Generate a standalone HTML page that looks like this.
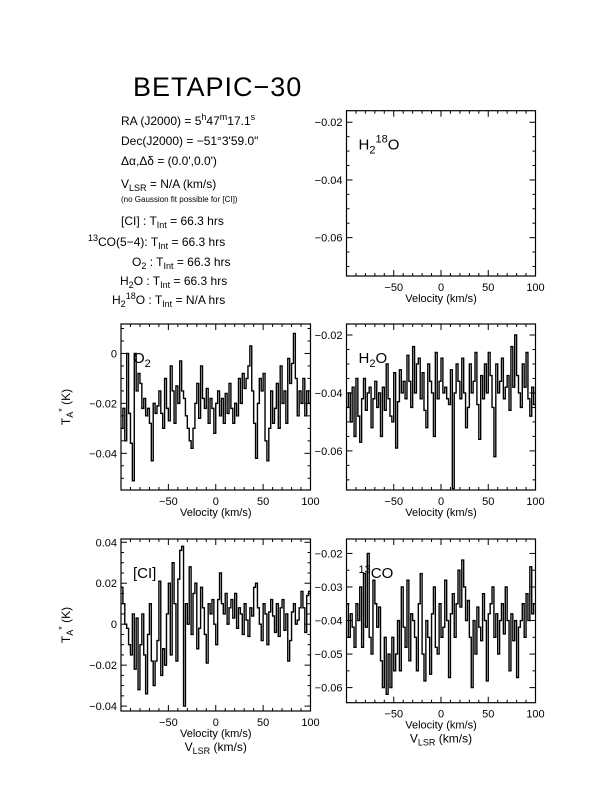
<!DOCTYPE html>
<html><head><meta charset="utf-8">
<style>
html,body{margin:0;padding:0;background:#fff;}
svg{display:block;font-family:"Liberation Sans",sans-serif;}
text{fill:#000;}
</style></head>
<body>
<svg id="fig" width="612" height="792" viewBox="0 0 612 792">
<text x="133" y="96" font-size="27" style="font-weight:100;letter-spacing:1px">BETAPIC−30</text>
<g font-size="12">
<text x="121" y="125">RA (J2000) = 5<tspan dy="-5" font-size="9">h</tspan><tspan dy="5">47</tspan><tspan dy="-5" font-size="9">m</tspan><tspan dy="5">17.1</tspan><tspan dy="-5" font-size="9">s</tspan></text>
<text x="121" y="145">Dec(J2000) = −51°3'59.0"</text>
<text x="121" y="165">Δα,Δδ = (0.0',0.0')</text>
<text x="121" y="188">V<tspan dy="3" font-size="9">LSR</tspan><tspan dy="-3"> = N/A (km/s)</tspan></text>
<text x="121" y="202" font-size="8">(no Gaussion fit possible for [CI])</text>
<text x="121" y="225">[CI] : T<tspan dy="3" font-size="9">Int</tspan><tspan dy="-3"> = 66.3 hrs</tspan></text>
<text x="88" y="246"><tspan dy="-5" font-size="9">13</tspan><tspan dy="5">CO(5−4): T</tspan><tspan dy="3" font-size="9">Int</tspan><tspan dy="-3"> = 66.3 hrs</tspan></text>
<text x="132" y="266">O<tspan dy="3" font-size="9">2</tspan><tspan dy="-3"> : T</tspan><tspan dy="3" font-size="9">Int</tspan><tspan dy="-3"> = 66.3 hrs</tspan></text>
<text x="120" y="285">H<tspan dy="3" font-size="9">2</tspan><tspan dy="-3">O : T</tspan><tspan dy="3" font-size="9">Int</tspan><tspan dy="-3"> = 66.3 hrs</tspan></text>
<text x="112" y="304">H<tspan dy="3" font-size="9">2</tspan><tspan dy="-8" font-size="9">18</tspan><tspan dy="5">O : T</tspan><tspan dy="3" font-size="9">Int</tspan><tspan dy="-3"> = N/A hrs</tspan></text>
</g>
</svg>
<script>
const o2Values=[-0.030,-0.022,-0.035,0.000,-0.024,-0.036,-0.051,0.000,-0.015,-0.008,-0.012,-0.022,-0.018,-0.025,-0.022,-0.028,-0.043,-0.020,-0.024,-0.021,-0.015,-0.024,-0.030,-0.010,-0.022,-0.027,-0.005,-0.015,-0.028,-0.013,-0.020,-0.003,-0.015,-0.018,-0.025,-0.030,-0.035,-0.038,-0.030,-0.020,-0.012,-0.026,-0.005,-0.018,-0.022,-0.014,-0.028,-0.018,-0.022,-0.032,-0.020,-0.015,-0.025,-0.018,-0.028,-0.016,-0.024,-0.012,-0.022,-0.028,-0.020,-0.025,-0.010,-0.020,-0.008,-0.014,-0.010,-0.005,0.003,-0.015,-0.028,-0.042,-0.020,-0.010,-0.015,-0.008,-0.035,-0.043,-0.030,-0.015,-0.028,-0.022,-0.012,-0.030,-0.005,-0.020,-0.015,-0.028,-0.002,-0.012,-0.004,0.008,-0.010,-0.025,-0.015,-0.020,-0.010,-0.025,-0.015,-0.020];
const h2oValues=[-0.045,-0.040,-0.050,-0.038,-0.055,-0.035,-0.048,-0.057,-0.042,-0.035,-0.046,-0.040,-0.038,-0.052,-0.042,-0.036,-0.045,-0.040,-0.055,-0.038,-0.046,-0.030,-0.042,-0.048,-0.050,-0.033,-0.059,-0.043,-0.032,-0.040,-0.036,-0.042,-0.027,-0.036,-0.045,-0.024,-0.040,-0.030,-0.028,-0.042,-0.033,-0.046,-0.052,-0.030,-0.036,-0.040,-0.055,-0.026,-0.042,-0.036,-0.028,-0.040,-0.038,-0.042,-0.044,-0.032,-0.073,-0.040,-0.030,-0.036,-0.042,-0.028,-0.040,-0.052,-0.045,-0.030,-0.040,-0.036,-0.026,-0.044,-0.056,-0.034,-0.042,-0.030,-0.040,-0.026,-0.034,-0.045,-0.062,-0.030,-0.040,-0.036,-0.028,-0.042,-0.038,-0.034,-0.046,-0.024,-0.038,-0.020,-0.034,-0.040,-0.045,-0.030,-0.038,-0.026,-0.042,-0.048,-0.038,-0.044];
const ciValues=[0.018,0.010,0.000,-0.002,-0.010,-0.015,0.005,-0.022,0.003,-0.032,-0.010,0.005,-0.015,-0.034,-0.005,0.010,-0.018,-0.030,-0.018,-0.008,0.021,-0.025,-0.012,-0.020,0.005,0.020,-0.015,0.030,0.010,-0.018,0.022,0.036,0.038,-0.040,0.010,0.000,0.028,-0.005,0.015,0.020,-0.012,-0.002,0.018,0.008,-0.005,-0.019,0.010,0.005,0.012,0.000,-0.010,0.012,0.025,0.010,0.005,0.015,0.000,0.008,0.012,0.003,0.015,-0.002,0.008,0.005,-0.005,0.010,0.002,-0.006,0.008,0.004,0.018,0.020,0.008,0.000,-0.008,0.010,0.005,-0.010,0.006,0.012,0.004,-0.004,0.010,-0.006,0.008,0.012,-0.003,0.005,-0.018,-0.008,0.006,0.010,0.000,0.002,0.008,0.016,0.008,-0.004,0.014,0.016];
const coValues=[-0.035,-0.045,-0.038,-0.042,-0.048,-0.035,-0.040,-0.030,-0.048,-0.026,-0.042,-0.020,-0.045,-0.050,-0.028,-0.035,-0.042,-0.036,-0.052,-0.060,-0.045,-0.062,-0.050,-0.060,-0.045,-0.055,-0.050,-0.040,-0.055,-0.030,-0.042,-0.048,-0.028,-0.052,-0.038,-0.040,-0.045,-0.055,-0.035,-0.026,-0.050,-0.058,-0.040,-0.045,-0.056,-0.038,-0.030,-0.048,-0.050,-0.035,-0.045,-0.042,-0.028,-0.040,-0.057,-0.038,-0.032,-0.045,-0.035,-0.025,-0.036,-0.022,-0.030,-0.040,-0.034,-0.045,-0.060,-0.040,-0.050,-0.036,-0.042,-0.046,-0.032,-0.040,-0.058,-0.038,-0.035,-0.030,-0.045,-0.038,-0.050,-0.040,-0.035,-0.044,-0.030,-0.040,-0.055,-0.038,-0.046,-0.040,-0.057,-0.042,-0.040,-0.035,-0.045,-0.032,-0.040,-0.024,-0.038,-0.035];
const h218oValues=[];
const xTickLabels=[-50,0,50,100];
const o2YTicks=[0,-0.02,-0.04];
const h2oYTicks=[-0.02,-0.04,-0.06];
const ciYTicks=[0.04,0.02,0,-0.02,-0.04];
const coYTicks=[-0.02,-0.03,-0.04,-0.05,-0.06];

const NS='http://www.w3.org/2000/svg';
const svg=document.getElementById('fig');
function mk(tag,attrs,parent){const e=document.createElementNS(NS,tag);for(const k in attrs)e.setAttribute(k,attrs[k]);(parent||svg).appendChild(e);return e;}
function fmt(v){if(v===0)return '0';let s=Math.abs(v).toFixed(2);return (v<0?'−':'')+s;}

function panel(p){
  const g=mk('g',{});
  
  
  const X=v=>p.x0+(v-(-100))/200*(p.x1-p.x0);
  const Y=v=>p.y0+(p.ymax-v)/(p.ymax-p.ymin)*(p.y1-p.y0);
  const box=mk('rect',{x:p.x0,y:p.y0,width:p.x1-p.x0,height:p.y1-p.y0,fill:'none',stroke:'#000','stroke-width':1.2},g);
  
  
  // x ticks
  for(let v=-90;v<=100;v+=10){
    const maj=v%50===0, L=maj?6:3, xx=X(v);
    mk('line',{x1:xx,y1:p.y1,x2:xx,y2:p.y1-L,stroke:'#000','stroke-width':1},g);
    mk('line',{x1:xx,y1:p.y0,x2:xx,y2:p.y0+L,stroke:'#000','stroke-width':1},g);
  }
  xTickLabels.forEach(v=>{
    const t=mk('text',{x:X(v),y:p.y1+15,'font-size':11,'text-anchor':'middle'},g);
    t.textContent=fmt(v).replace('.00','');
    
    
  });
  // y ticks
  const st=p.minor;
  for(let v=Math.ceil(p.ymin/st)*st;v<=p.ymax+1e-9;v+=st){
    const yy=Y(v);const maj=p.yticks.some(t=>Math.abs(t-v)<1e-6);const L=maj?6:3;
    mk('line',{x1:p.x0,y1:yy,x2:p.x0+L,y2:yy,stroke:'#000','stroke-width':1},g);
    mk('line',{x1:p.x1,y1:yy,x2:p.x1-L,y2:yy,stroke:'#000','stroke-width':1},g);
  }
  p.yticks.forEach(v=>{
    const t=mk('text',{x:p.x0-4,y:Y(v)+4,'font-size':11,'text-anchor':'end'},g);
    t.textContent=fmt(v);
    
    
  });
  // spectrum as histogram
  const vals=p.values;
  if(vals.length){
    const w=200/vals.length;let d='';
    vals.forEach((val,i)=>{
      const a=X(-100+i*w),b=X(-100+(i+1)*w),y=Y(val);
      d+=(i===0?'M'+a+' '+y:'L'+a+' '+y)+' L'+b+' '+y+' ';
    });
    const path=mk('path',{d:d,fill:'none',stroke:'#000','stroke-width':1.4},g);
    
    
  }
  const xt=mk('text',{x:(p.x0+p.x1)/2,y:p.y1+26,'font-size':11,'text-anchor':'middle'},g);
  xt.textContent='Velocity (km/s)';
  
  
  if(p.vlsr){
    const vt=mk('text',{x:(p.x0+p.x1)/2,y:p.y1+40,'font-size':12,'text-anchor':'middle'},g);
    vt.innerHTML='V<tspan dy="3" font-size="9">LSR</tspan><tspan dy="-3"> (km/s)</tspan>';
    
    
  }
  if(p.ytitle){
    const cy=(p.y0+p.y1)/2;
    const yt=mk('text',{x:0,y:0,'font-size':12,'text-anchor':'middle',transform:'translate(70,'+cy+') rotate(-90)'},g);
    yt.innerHTML='T<tspan dy="3" font-size="9">A</tspan><tspan dy="-8" font-size="9">*</tspan><tspan dy="5"> (K)</tspan>';
    
    
  }
  const lb=mk('text',{x:p.x0+12,y:p.y0+39,'font-size':15},g);
  lb.innerHTML=p.label;
  
  
}
const L0=121,L1=310.5,R0=346.5,R1=535.5;
panel({name:'h218o',x0:R0,x1:R1,y0:110.7,y1:276,ymin:-0.0733,ymax:-0.016,yticks:h2oYTicks,minor:0.005,values:h218oValues,label:'H<tspan dy="4" font-size="11">2</tspan><tspan dy="-11" font-size="11">18</tspan><tspan dy="7">O</tspan>'});
panel({name:'o2',x0:L0,x1:L1,y0:324,y1:490,ymin:-0.0547,ymax:0.0118,yticks:o2YTicks,minor:0.005,values:o2Values,ytitle:true,label:'O<tspan dy="4" font-size="11">2</tspan>'});
panel({name:'h2o',x0:R0,x1:R1,y0:324,y1:490,ymin:-0.0735,ymax:-0.0162,yticks:h2oYTicks,minor:0.005,values:h2oValues,label:'H<tspan dy="4" font-size="11">2</tspan><tspan dy="-4">O</tspan>'});
panel({name:'ci',x0:L0,x1:L1,y0:539,y1:711,ymin:-0.0424,ymax:0.0416,yticks:ciYTicks,minor:0.005,values:ciValues,ytitle:true,vlsr:true,label:'[CI]'});
panel({name:'13co',x0:R0,x1:R1,y0:539,y1:702.7,ymin:-0.0645,ymax:-0.0157,yticks:coYTicks,minor:0.005,values:coValues,vlsr:true,label:'<tspan dy="-5" font-size="11">13</tspan><tspan dy="5">CO</tspan>'});
</script>
</body></html>
